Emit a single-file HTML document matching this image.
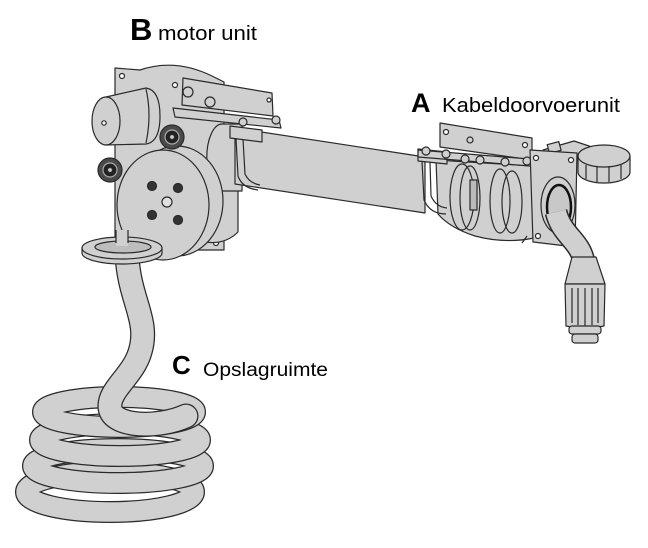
<!DOCTYPE html>
<html><head><meta charset="utf-8"><style>
html,body{margin:0;padding:0;background:#fff;}
svg{display:block;}
</style></head><body>
<svg width="648" height="548" viewBox="0 0 648 548" xmlns="http://www.w3.org/2000/svg">
<!-- COIL (bottom first) -->
<g fill="none" stroke-linecap="round">
  <ellipse cx="110" cy="492" rx="84" ry="20" stroke="#2a2a2a" stroke-width="22"/>
  <ellipse cx="110" cy="492" rx="84" ry="20" stroke="#d0d0d0" stroke-width="19.5"/>
  <ellipse cx="118" cy="466" rx="85" ry="17" stroke="#2a2a2a" stroke-width="22"/>
  <ellipse cx="118" cy="466" rx="85" ry="17" stroke="#d0d0d0" stroke-width="19.5"/>
  <ellipse cx="120" cy="440" rx="80" ry="16" stroke="#2a2a2a" stroke-width="22"/>
  <ellipse cx="120" cy="440" rx="80" ry="16" stroke="#d0d0d0" stroke-width="19.5"/>
  <ellipse cx="119" cy="412" rx="76" ry="15" stroke="#2a2a2a" stroke-width="22"/>
  <ellipse cx="119" cy="412" rx="76" ry="15" stroke="#d0d0d0" stroke-width="19.5"/>
  <!-- S hose -->
  <path d="M127,255 C129,300 150,320 140,352 C133,376 108,390 110,408 C113,428 160,428 186,416" stroke="#2a2a2a" stroke-width="25"/>
  <path d="M127,255 C129,300 150,320 140,352 C133,376 108,390 110,408 C113,428 160,428 186,416" stroke="#d0d0d0" stroke-width="22.5"/>
</g>

<g fill="#d0d0d0" stroke="#2a2a2a" stroke-width="1.2" stroke-linejoin="round">
  <!-- motor back plate -->
  <path d="M115,68 L140,70 Q175,58 212,76 L224,82 L224,250 L115,250 Z"/>
  <circle cx="122" cy="76" r="2.5" fill="#fff"/>
  <circle cx="175" cy="85" r="2.5" fill="#fff"/>
  <circle cx="216" cy="243" r="2.5" fill="#fff"/>
  <!-- gear housing right of drum -->
  <path d="M205,178 L238,178 L238,232 Q225,245 205,242 Z"/>
  <!-- tube left collar -->
  <path d="M242,124 L222,124 A15,33 0 0 0 222,191 L242,191 Z"/>
  <!-- main tube -->
  <path d="M235,128 L425,157 L425,213 L235,184 Z"/>
  <!-- left clamp on tube -->
  <path d="M230,126 L262,130 L262,142 L230,138 Z"/>
  <path d="M236,138 L238,176 Q242,188 258,190" fill="none"/>
  <path d="M243,139 L245,174 Q249,183 260,185" fill="none"/>
  <!-- top bracket on motor -->
  <path d="M183,78 L272,93 L273,116 L182,105 Z"/>
  <path d="M173,108 L279,120 L281,128 L175,117 Z"/>
  <circle cx="188" cy="92" r="5"/>
  <circle cx="210" cy="102" r="5"/>
  <circle cx="269" cy="100" r="2" fill="#fff"/>
  <circle cx="243" cy="122" r="4"/>
  <circle cx="276" cy="120" r="4"/>
  <!-- motor cylinder -->
  <path d="M106,97 L146,88 Q160,90 160,116 Q160,142 146,144 L106,145 Z"/>
  <path d="M146,89 Q152,115 146,143" fill="none"/>
  <ellipse cx="106" cy="121" rx="14" ry="24"/>
  <circle cx="104" cy="123" r="2.2" fill="#fff"/>
  <!-- drum -->
  <ellipse cx="177" cy="201" rx="46" ry="55"/>
  <path d="M163,150 L177,146 L177,256 L163,260 Z" stroke="none"/>
  <ellipse cx="163" cy="205" rx="46" ry="55"/>
  <circle cx="167" cy="202" r="5" fill="#e0e0e0"/>
  <circle cx="152" cy="186" r="4.5" fill="#333"/>
  <circle cx="178" cy="188" r="4.5" fill="#333"/>
  <circle cx="152" cy="215" r="4.5" fill="#333"/>
  <circle cx="178" cy="220" r="4.5" fill="#333"/>
  <!-- knobs -->
  <circle cx="172" cy="137" r="12" fill="#4a4a4a"/>
  <circle cx="172" cy="137" r="7" fill="#222" stroke="#aaa"/>
  <circle cx="172" cy="137" r="2.5" fill="#ccc"/>
  <circle cx="110" cy="170" r="12" fill="#4a4a4a"/>
  <circle cx="110" cy="170" r="7" fill="#222" stroke="#aaa"/>
  <circle cx="110" cy="170" r="2.5" fill="#ccc"/>
  <!-- hose guide ring -->
  <path d="M82,248 L82,253 A40,11 0 0 0 162,253 L162,248 Z"/>
  <ellipse cx="122" cy="248" rx="40" ry="11"/>
  <ellipse cx="123" cy="247" rx="28" ry="6" fill="#bdbdbd"/>
  <rect x="116" y="230" width="12" height="16" stroke="none"/>
  <path d="M116,230 L116,243 M128,230 L128,243" fill="none"/>

  <!-- UNIT A -->
  <path d="M436,160 L534,166 L534,238 Q505,244 475,236 Q450,228 438,214 Z"/>
  <ellipse cx="462" cy="197" rx="12" ry="33" fill="none"/>
  <ellipse cx="470" cy="198" rx="10" ry="32" fill="none"/>
  <ellipse cx="500" cy="201" rx="10" ry="32" fill="none"/>
  <ellipse cx="512" cy="202" rx="10" ry="31" fill="none"/>
  <rect x="470" y="180" width="7" height="30" fill="#bbb"/>
  <path d="M418,149 L447,152 L447,164 L418,161 Z"/>
  <path d="M422,161 L424,200 Q430,214 446,214" fill="none"/>
  <path d="M430,162 L431,196 Q436,207 447,208" fill="none"/>
  <path d="M440,123 L532,138 L532,160 L440,147 Z"/>
  <circle cx="446" cy="132" r="2.5" fill="#fff"/>
  <circle cx="470" cy="140" r="3"/>
  <circle cx="525" cy="145" r="2.5" fill="#fff"/>
  <path d="M418,150 L542,160 L542,167 L418,157 Z"/>
  <circle cx="426" cy="151" r="4"/>
  <circle cx="446" cy="154" r="4"/>
  <circle cx="465" cy="159" r="4"/>
  <circle cx="480" cy="160" r="4"/>
  <circle cx="505" cy="162" r="4"/>
  <circle cx="527" cy="161" r="4"/>
  <!-- cap arm -->
  <path d="M543,150 L574,141 L592,147 L582,162 L548,160 Z"/>
  <rect x="548" y="143" width="12" height="9" transform="rotate(-15 554 147)"/>
  <!-- cap -->
  <path d="M578,156 L578,172 A26,11 0 0 0 630,172 L630,156 Z"/>
  <ellipse cx="604" cy="156" rx="26" ry="11"/>
  <path d="M586,165 L586,179 M597,166 L597,182 M609,166 L609,182 M621,164 L621,179" fill="none"/>
  <!-- flange plate -->
  <path d="M530,150 L577,153 L575,247 L533,242 Z"/>
  <circle cx="536" cy="158" r="2.5" fill="#fff"/>
  <circle cx="571" cy="160" r="2.5" fill="#fff"/>
  <circle cx="538" cy="236" r="2.5" fill="#fff"/>
  <circle cx="570" cy="240" r="2.5" fill="#fff"/>
  <ellipse cx="558" cy="205" rx="17" ry="28"/>
  <ellipse cx="559" cy="207" rx="12" ry="22" fill="#c8c8c8" stroke="#111" stroke-width="2.5"/>
  <line x1="527" y1="236" x2="522" y2="243"/>
</g>
<!-- bent cable -->
<g fill="none" stroke-linecap="butt">
  <path d="M556,212 C562,236 580,240 584,262" stroke="#2a2a2a" stroke-width="23"/>
  <path d="M556,212 C562,236 580,240 584,262" stroke="#d0d0d0" stroke-width="20"/>
</g>
<g fill="#d0d0d0" stroke="#2a2a2a" stroke-width="1.2" stroke-linejoin="round">
  <path d="M572,257 L596,257 L605,284 L565,284 Z"/>
  <path d="M565,284 L605,284 L604,326 Q585,330 566,326 Z"/>
  <path d="M572,288 L572,323 M578,288 L578,325 M585,288 L585,326 M592,288 L592,325 M598,288 L598,323" fill="none"/>
  <rect x="569" y="326" width="32" height="8" rx="3"/>
  <rect x="572" y="334" width="26" height="9" rx="3"/>
</g>

<!-- LABELS -->
<g fill="#000" font-family="Liberation Sans, Arial, sans-serif">
  <text x="130" y="40" font-size="31" font-weight="bold">B</text>
  <text x="158" y="40" font-size="20" textLength="99" lengthAdjust="spacingAndGlyphs">motor unit</text>
  <text x="411" y="112" font-size="27" font-weight="bold">A</text>
  <text x="442" y="112" font-size="20" textLength="178" lengthAdjust="spacingAndGlyphs">Kabeldoorvoerunit</text>
  <text x="172" y="374" font-size="26" font-weight="bold">C</text>
  <text x="203" y="376" font-size="19" textLength="125" lengthAdjust="spacingAndGlyphs">Opslagruimte</text>
</g>
</svg>
</body></html>
